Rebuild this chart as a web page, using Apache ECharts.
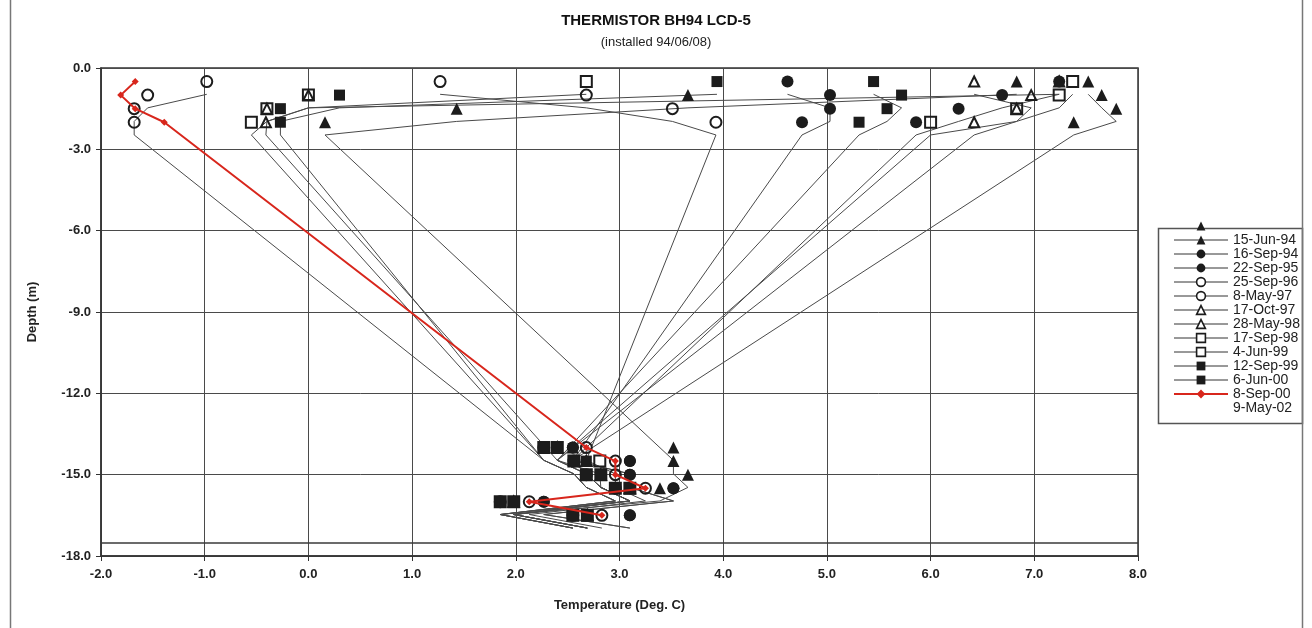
<!DOCTYPE html>
<html>
<head>
<meta charset="utf-8">
<script src="https://cdn.jsdelivr.net/npm/echarts@6/dist/echarts.min.js"></script>
<style>
html,body{margin:0;padding:0;background:#fff;}
#chart{width:1312px;height:628px;}
</style>
</head>
<body>
<div id="chart"></div>
<script>
// ---- Data ----
const depthsM = [-0.5, -1.0, -1.5, -2.0, -14.0, -14.5, -15.0, -15.5, -16.0, -16.5];

// temperatures (deg C) at each depth, one array per legend row
const tempRow0     = [6.83, 3.66, 1.43, 0.16, 3.52, 3.52, 3.66, 3.39, 1.98, 2.69];   // filled triangle, unlabeled row
const temp15Jun94  = [7.52, 7.65, 7.79, 7.38, 2.55, 2.68, 2.82, 3.10, 1.85, 2.55];   // filled triangle
const temp16Sep94  = [4.62, 5.03, 5.03, 4.76, 2.55, 3.10, 3.10, 3.52, 2.27, 3.10];   // filled circle
const temp22Sep95  = [7.24, 6.69, 6.27, 5.86, 2.55, 3.10, 3.10, 3.52, 2.27, 3.10];   // filled circle
const temp25Sep96  = [-0.98, -1.55, -1.68, -1.68, 2.27, 2.56, 2.68, 2.96, 1.85, 2.55]; // open circle
const temp8May97   = [1.27, 2.68, 3.51, 3.93, 2.68, 2.96, 2.96, 3.25, 2.13, 2.83];   // open circle
const temp17Oct97  = [6.42, 6.97, 6.83, 6.42, 2.40, 2.68, 2.82, 3.10, 1.98, 2.69];   // open triangle
const temp28May98  = [7.24, 0.00, -0.40, -0.41, 2.40, 2.68, 2.82, 3.10, 1.98, 2.69]; // open triangle
const temp17Sep98  = [2.68, 0.00, -0.40, -0.55, 2.27, 2.56, 2.68, 2.96, 1.85, 2.55]; // open square
const temp4Jun99   = [7.37, 7.24, 6.83, 6.00, 2.40, 2.81, 2.82, 3.10, 1.98, 2.69];   // open square
const temp12Sep99  = [3.94, 0.30, -0.27, -0.27, 2.27, 2.56, 2.68, 2.96, 1.85, 2.55]; // filled square
const temp6Jun00   = [5.45, 5.72, 5.58, 5.31, 2.40, 2.68, 2.82, 3.10, 1.98, 2.69];   // filled square
const temp8Sep00   = [-1.67, -1.81, -1.67, -1.39, 2.68, 2.96, 2.96, 3.25, 2.13, 2.83]; // red

const legendNames = [' ', '15-Jun-94', '16-Sep-94', '22-Sep-95', '25-Sep-96', '8-May-97',
  '17-Oct-97', '28-May-98', '17-Sep-98', '4-Jun-99', '12-Sep-99', '6-Jun-00', '8-Sep-00', '9-May-02'];

const xTicks = { min: -2, max: 8, step: 1 };
const yTicks = { min: -18, max: 0, step: 3 };
const boxBottom = -17.5;      // lower edge of the plot-area frame
const lineOffset = 0.47;      // the grey profile lines sit this far below their markers in the reference

// ---- Styles ----
const DARK = '#1c1c1c';
const RED = '#d8261c';
const GREY = '#4a4a4a';
const rows = [
  { temps: tempRow0,    symbol: 'triangle', open: false, size: 12, noLegendLine: true },
  { temps: temp15Jun94, symbol: 'triangle', open: false, size: 12 },
  { temps: temp16Sep94, symbol: 'circle',   open: false, size: 12 },
  { temps: temp22Sep95, symbol: 'circle',   open: false, size: 12 },
  { temps: temp25Sep96, symbol: 'circle',   open: true,  size: 11 },
  { temps: temp8May97,  symbol: 'circle',   open: true,  size: 11 },
  { temps: temp17Oct97, symbol: 'triangle', open: true,  size: 10 },
  { temps: temp28May98, symbol: 'triangle', open: true,  size: 10 },
  { temps: temp17Sep98, symbol: 'rect',     open: true,  size: 11 },
  { temps: temp4Jun99,  symbol: 'rect',     open: true,  size: 11 },
  { temps: temp12Sep99, symbol: 'rect',     open: false, size: 11 },
  { temps: temp6Jun00,  symbol: 'rect',     open: false, size: 11 },
  { temps: temp8Sep00,  symbol: 'diamond',  open: false, size: 7, red: true }
];

const pairs = arr => arr.map((t, i) => [t, depthsM[i]]);
const series = [];
const legendData = [];

rows.forEach((r, i) => {
  const name = legendNames[i];
  if (r.red) {
    series.push({
      name, type: 'line', xAxisIndex: 0, yAxisIndex: 0, data: pairs(r.temps),
      symbol: r.symbol, symbolSize: r.size, showSymbol: true, z: 6,
      lineStyle: { color: RED, width: 2 },
      itemStyle: { color: RED, borderColor: RED, borderWidth: 0 },
      animation: false, silent: true
    });
    legendData.push({ name, lineStyle: { color: RED, width: 2, opacity: 1 } });
  } else {
    // grey profile line (drawn on the offset depth scale)
    series.push({
      name: name + ' profile', type: 'line', xAxisIndex: 0, yAxisIndex: 1, data: pairs(r.temps),
      showSymbol: false, symbol: 'none', z: 2,
      lineStyle: { color: GREY, width: 1 }, animation: false, silent: true
    });
    // markers
    series.push({
      name, type: 'line', xAxisIndex: 0, yAxisIndex: 0, data: pairs(r.temps),
      symbol: r.symbol, symbolSize: r.size, showSymbol: true, z: 3,
      lineStyle: { color: GREY, width: 1, opacity: 0 },
      itemStyle: r.open
        ? { color: 'rgba(255,255,255,0)', borderColor: DARK, borderWidth: 2 }
        : { color: DARK, borderColor: DARK, borderWidth: 0 },
      animation: false, silent: true
    });
    legendData.push({
      name,
      lineStyle: { color: '#333', width: 1, opacity: r.noLegendLine ? 0 : 1 },
      itemStyle: r.open ? { color: '#ffffff', borderColor: DARK, borderWidth: 1.6 } : { color: DARK }
    });
  }
});
// last legend row: label only
series.push({ name: legendNames[13], type: 'line', data: [], symbol: 'none', lineStyle: { opacity: 0 } });
legendData.push({ name: legendNames[13], icon: 'none' });

// frame line at the bottom of the plot-area box
series.push({
  name: 'frame', type: 'line', data: [], silent: true,
  markLine: { silent: true, symbol: 'none', label: { show: false },
    lineStyle: { color: '#3a3a3a', width: 1.5, type: 'solid' },
    data: [{ yAxis: boxBottom }], animation: false }
});

const chart = echarts.init(document.getElementById('chart'), null, { renderer: 'canvas' });
const FONT = 'Liberation Sans, Arial, sans-serif';
chart.setOption({
  animation: false,
  backgroundColor: '#ffffff',
  textStyle: { fontFamily: FONT },
  title: {
    text: 'THERMISTOR BH94 LCD-5',
    subtext: '(installed 94/06/08)',
    left: 'center', top: 8, itemGap: 8,
    textStyle: { fontSize: 15, fontWeight: 'bold', color: '#111', fontFamily: FONT },
    subtextStyle: { fontSize: 13, color: '#222', fontFamily: FONT }
  },
  grid: { left: 101, right: 174, top: 68, bottom: 72, show: true, borderColor: '#333', borderWidth: 1.5, backgroundColor: 'transparent' },
  xAxis: {
    type: 'value', min: xTicks.min, max: xTicks.max, interval: xTicks.step,
    name: 'Temperature (Deg. C)', nameLocation: 'middle', nameGap: 43,
    nameTextStyle: { fontSize: 13, fontWeight: 'bold', color: '#222' },
    axisLine: { onZero: false, lineStyle: { color: '#333', width: 1.5 } },
    axisTick: { show: true, length: 5, lineStyle: { color: '#333' } },
    axisLabel: { formatter: v => v.toFixed(1), fontSize: 13, fontWeight: 'bold', color: '#222', margin: 12 },
    splitLine: { show: true, lineStyle: { color: GREY, width: 1 } }
  },
  yAxis: [{
    type: 'value', min: yTicks.min, max: yTicks.max, interval: yTicks.step,
    name: 'Depth (m)', nameLocation: 'middle', nameGap: 62, nameRotate: 90,
    nameTextStyle: { fontSize: 13, fontWeight: 'bold', color: '#222' },
    axisLine: { show: true, onZero: false, lineStyle: { color: '#333', width: 1.5 } },
    axisTick: { show: true, length: 5, lineStyle: { color: '#333' } },
    axisLabel: { formatter: v => v.toFixed(1), fontSize: 13, fontWeight: 'bold', color: '#222', margin: 10 },
    splitLine: { show: true, lineStyle: { color: GREY, width: 1 } }
  }, {
    type: 'value', min: yTicks.min + lineOffset, max: yTicks.max + lineOffset, show: false,
    splitLine: { show: false }
  }],
  legend: {
    orient: 'vertical', left: 1168, top: 214, itemWidth: 54, itemHeight: 11, itemGap: 0,
    selectedMode: false, data: legendData,
    textStyle: { fontSize: 14, color: '#222', fontFamily: FONT }
  },
  graphic: [
    { type: 'rect', z: -1, shape: { x: 1158.5, y: 228.5, width: 144, height: 195 },
      style: { fill: '#fff', stroke: '#555', lineWidth: 1.5 } },
    { type: 'line', shape: { x1: 10.5, y1: 0, x2: 10.5, y2: 628 }, style: { stroke: '#777', lineWidth: 1.5 } },
    { type: 'line', shape: { x1: 1302.5, y1: 0, x2: 1302.5, y2: 628 }, style: { stroke: '#777', lineWidth: 1.5 } }
  ],
  series
});
</script>
</body>
</html>
